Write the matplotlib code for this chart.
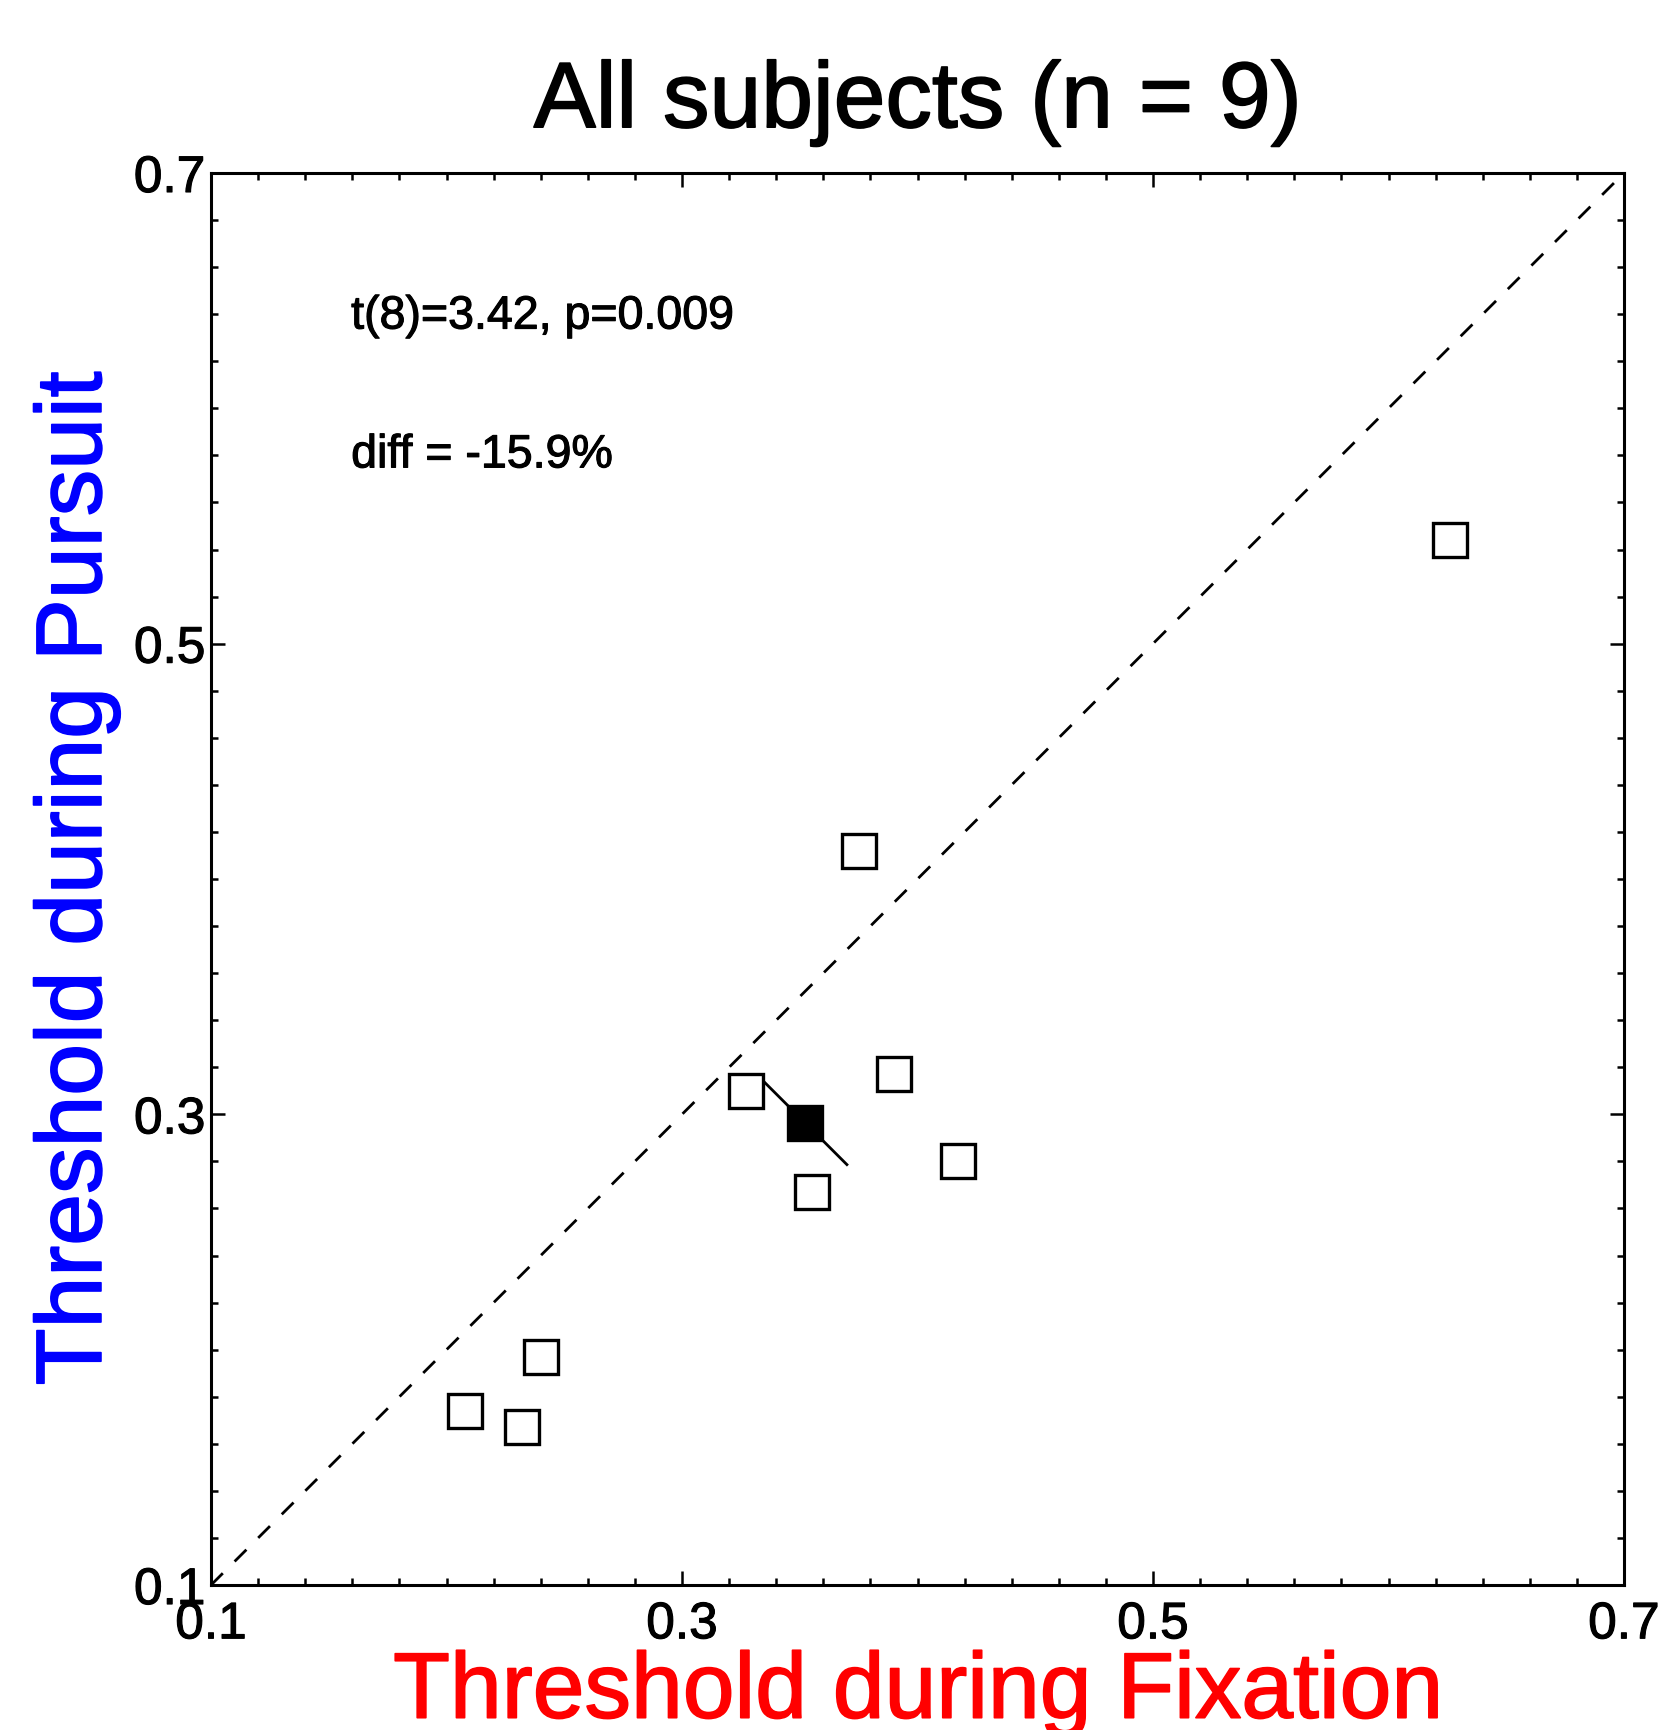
import matplotlib
matplotlib.use("Agg")
import matplotlib.pyplot as plt
import matplotlib.patheffects as pe
from matplotlib.ticker import MultipleLocator

plt.rcParams["font.family"] = ["Liberation Sans", "DejaVu Sans"]

# per-subject thresholds
fixation = [0.626, 0.375, 0.327, 0.390, 0.417, 0.355, 0.240, 0.208, 0.232]
pursuit = [0.544, 0.412, 0.310, 0.317, 0.280, 0.267, 0.197, 0.174, 0.167]
# error half-extent (perpendicular to the unity line) of the mean
mean_err = 0.0178
stats_text = "t(8)=3.42, p=0.009"
diff_text = "diff = -15.9%"
title = "All subjects (n = 9)"
lims = (0.1, 0.7)
major_ticks = [0.1, 0.3, 0.5, 0.7]


def heavy(lw, color):
    return [pe.withStroke(linewidth=lw, foreground=color)]


def main() -> None:
    fig = plt.figure(figsize=(16.59, 17.30), dpi=100)
    ax = fig.add_axes([0.1272, 0.0838, 0.8517, 0.8162])

    ax.plot(lims, lims, color="black", lw=2.0, dashes=(6, 6), zorder=1)

    ax.plot(fixation, pursuit, ls="none", marker="s", ms=25, mfc="white",
            mec="black", mew=2.4, zorder=3)

    mx = sum(fixation) / len(fixation)
    my = sum(pursuit) / len(pursuit)
    ax.plot([mx - mean_err, mx + mean_err], [my + mean_err, my - mean_err],
            color="black", lw=2.0, zorder=2)
    ax.plot([mx], [my], ls="none", marker="s", ms=25, mfc="black",
            mec="black", mew=2.4, zorder=4)

    ax.set_xlim(*lims)
    ax.set_ylim(*lims)
    ax.set_xticks(major_ticks)
    ax.set_yticks(major_ticks)
    ax.set_xticklabels([f"{v:.1f}" for v in major_ticks])
    ax.set_yticklabels([f"{v:.1f}" for v in major_ticks])
    ax.xaxis.set_minor_locator(MultipleLocator(0.02))
    ax.yaxis.set_minor_locator(MultipleLocator(0.02))
    ax.tick_params(which="both", direction="in", top=True, right=True,
                   width=1.8, labelsize=37)
    ax.tick_params(axis="y", pad=4)
    ax.tick_params(axis="x", pad=11)
    ax.tick_params(which="major", length=10)
    ax.tick_params(which="minor", length=5)
    for s in ax.spines.values():
        s.set_linewidth(2.2)
    for lab in ax.get_xticklabels() + ax.get_yticklabels():
        lab.set_path_effects(heavy(0.8, "black"))

    xl = ax.set_xlabel("Threshold during Fixation", color="red", fontsize=67, labelpad=1)
    yl = ax.set_ylabel("Threshold during Pursuit", color="blue", fontsize=67, labelpad=10)
    tl = ax.set_title(title, fontsize=67, pad=33)
    xl.set_path_effects(heavy(1.2, "red"))
    yl.set_path_effects(heavy(1.2, "blue"))
    tl.set_path_effects(heavy(1.2, "black"))

    t1 = ax.text(0.1595, 0.639, stats_text, fontsize=33.5, va="center")
    t2 = ax.text(0.1595, 0.580, diff_text, fontsize=33.5, va="center")
    for t in (t1, t2):
        t.set_path_effects(heavy(0.8, "black"))

    fig.savefig("out.png")
    plt.close(fig)


if __name__ == "__main__":
    main()
